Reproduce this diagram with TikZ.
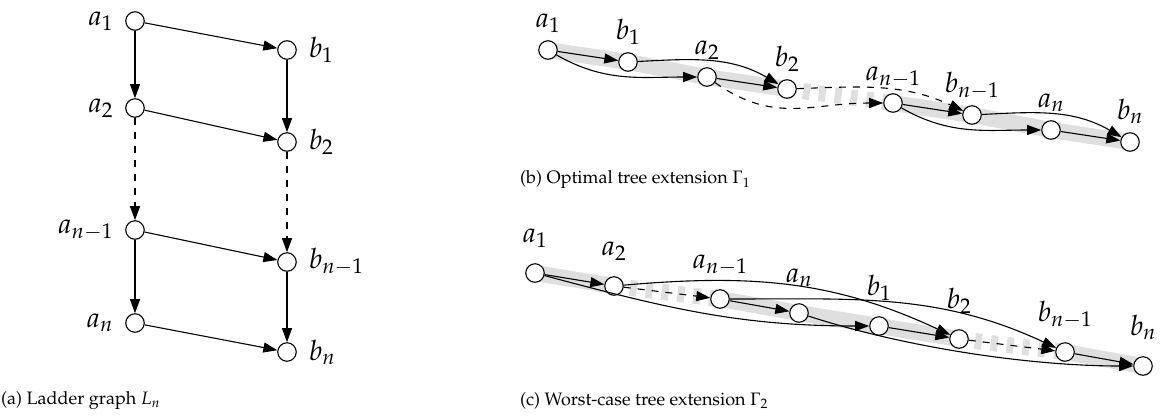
\documentclass[tikz,border=0pt]{standalone}
\usepackage[T1]{fontenc}
\usepackage{mathpazo}
\usetikzlibrary{arrows.meta}
\pgfdeclarelayer{bg}
\pgfsetlayers{bg,main}
\tikzset{
 vtx/.style={circle,draw,fill=white,minimum size=18.5pt,inner sep=0pt,line width=1.1pt},
 arr/.style={-{Triangle[length=14pt,width=10pt]},line width=1.1pt},
 dsh/.style={dash pattern=on 7pt off 7pt},
 hl/.style={draw=gray!25,line width=16pt,line join=round},
 hld/.style={draw=gray!25,line width=16pt,dash pattern=on 7pt off 9pt},
 lab/.style={font=\fontsize{28}{30}\selectfont,inner sep=1pt},
 captxt/.style={font=\fontsize{18}{21}\selectfont,anchor=west,inner sep=0pt},
 lbl/.style={label={[lab,label distance=11pt]left:#1}},
 rbl/.style={label={[lab,label distance=11pt]right:#1}},
 abl/.style={label={[lab,anchor=base,label distance=13pt]above:#1}},
 cbl/.style={label={[lab,anchor=base,label distance=21pt]above:#1}},
}
\begin{document}
\begin{tikzpicture}[x=1pt,y=1pt]
\useasboundingbox (0,0) rectangle (1161,-416);
% ---------- (a) ----------
\node[vtx,lbl=$a_1$] (la1) at (135,-21) {};
\node[vtx,lbl=$a_2$] (la2) at (135,-108) {};
\node[vtx,lbl=$a_{n-1}$] (lan1) at (135,-230) {};
\node[vtx,lbl=$a_n$] (lan) at (135,-323) {};
\node[vtx,rbl=$b_1$] (lb1) at (287,-50) {};
\node[vtx,rbl=$b_2$] (lb2) at (287,-142) {};
\node[vtx,rbl=$b_{n-1}$] (lbn1) at (287,-262) {};
\node[vtx,rbl=$b_n$] (lbn) at (287,-352) {};
\draw[arr] (la1) -- (lb1);
\draw[arr] (la2) -- (lb2);
\draw[arr] (lan1) -- (lbn1);
\draw[arr] (lan) -- (lbn);
\draw[arr] (la1) -- (la2);
\draw[arr,dsh] (la2) -- (lan1);
\draw[arr] (lan1) -- (lan);
\draw[arr] (lb1) -- (lb2);
\draw[arr,dsh] (lb2) -- (lbn1);
\draw[arr] (lbn1) -- (lbn);
\node[captxt] (capa) at (1,-401) {(a) Ladder graph $L_n$};
% ---------- (b) ----------
\node[vtx,abl=$a_1$] (pa1) at (548,-50) {};
\node[vtx,abl=$b_1$] (pb1) at (628,-62) {};
\node[vtx,abl=$a_2$] (pa2) at (707,-77) {};
\node[vtx,abl=$b_2$] (pb2) at (787,-89) {};
\node[vtx,abl=$a_{n-1}$] (pan1) at (893,-103) {};
\node[vtx,abl=$b_{n-1}$] (pbn1) at (972,-115) {};
\node[vtx,abl=$a_n$] (pan) at (1051,-130) {};
\node[vtx,abl=$b_n$] (pbn) at (1130,-142) {};
\begin{pgfonlayer}{bg}
\draw[hl] (pa1.center) -- (pb1.center) -- (pa2.center) -- (pb2.center);
\draw[hld] (pb2.center) -- (pan1.center);
\draw[hl] (pan1.center) -- (pbn1.center) -- (pan.center) -- (pbn.center);
\end{pgfonlayer}
\draw[arr] (pa1) -- (pb1);
\draw[arr] (pa2) -- (pb2);
\draw[arr] (pan1) -- (pbn1);
\draw[arr] (pan) -- (pbn);
\draw[arr] (pa1) to[out=-30,in=180] (pa2);
\draw[arr] (pb1) to[out=3,in=150] (pb2);
\draw[arr,dsh] (pa2) to[out=-35,in=180,looseness=1.1] (pan1);
\draw[arr,dsh] (pb2) to[out=2,in=155] (pbn1);
\draw[arr] (pan1) to[out=-30,in=180] (pan);
\draw[arr] (pbn1) to[out=3,in=150] (pbn);
\node[captxt] (capb) at (520,-180) {(b) Optimal tree extension $\Gamma_1$};
% ---------- (c) ----------
\node[vtx,cbl=$a_1$] (wa1) at (535,-273) {};
\node[vtx,cbl=$a_2$] (wa2) at (614,-286) {};
\node[vtx,cbl=$a_{n-1}$] (wan1) at (720,-299) {};
\node[vtx,cbl=$a_n$] (wan) at (799,-313) {};
\node[vtx,cbl=$b_1$] (wb1) at (879,-326) {};
\node[vtx,cbl=$b_2$] (wb2) at (959,-339) {};
\node[vtx,cbl=$b_{n-1}$] (wbn1) at (1065,-352) {};
\node[vtx,cbl=$b_n$] (wbn) at (1143,-366) {};
\begin{pgfonlayer}{bg}
\draw[hl] (wa1.center) -- (wa2.center);
\draw[hld] (wa2.center) -- (wan1.center);
\draw[hl] (wan1.center) -- (wan.center) -- (wb1.center) -- (wb2.center);
\draw[hld] (wb2.center) -- (wbn1.center);
\draw[hl] (wbn1.center) -- (wbn.center);
\end{pgfonlayer}
\draw[arr] (wa1) -- (wa2);
\draw[arr,dsh] (wa2) -- (wan1);
\draw[arr] (wan1) -- (wan);
\draw[arr] (wb1) -- (wb2);
\draw[arr,dsh] (wb2) -- (wbn1);
\draw[arr] (wbn1) -- (wbn);
\draw[arr] (wa1) to[out=-15,in=180] (wb1);
\draw[arr] (wan) to[out=-18,in=180,looseness=0.8] (wbn);
\draw[arr] (wa2) to[out=5,in=155] (wb2);
\draw[arr] (wan1) to[out=0,in=155] (wbn1);
\node[captxt] (capc) at (520,-401) {(c) Worst-case tree extension $\Gamma_2$};
\end{tikzpicture}
\end{document}
